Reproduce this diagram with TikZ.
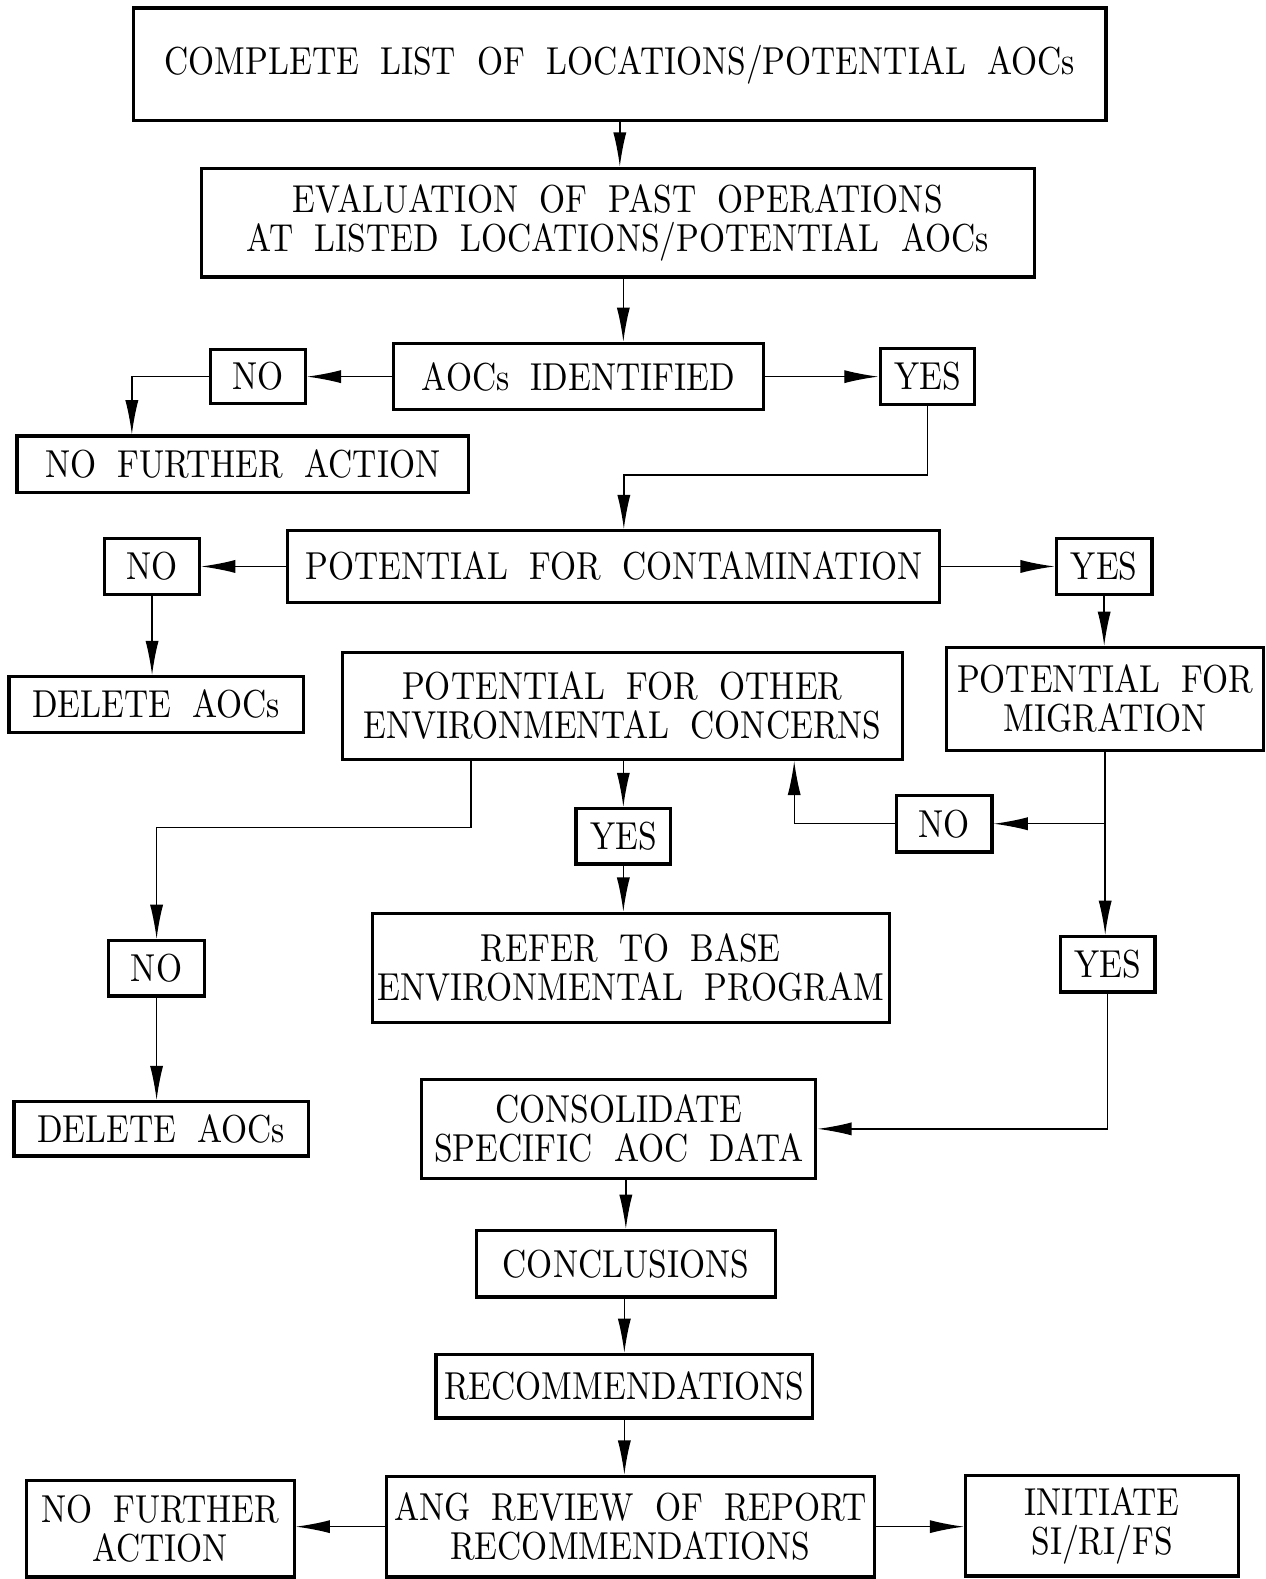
\documentclass[tikz,border=0pt]{standalone}
\usepackage{fontspec}
\usepackage{tikz}
\usetikzlibrary{arrows.meta}
\newfontfamily\flowfont{lmroman10-regular.otf}[FakeStretch=0.86]
\newcommand\flowtext{\flowfont\fontsize{11}{11}\selectfont\spaceskip=6pt plus 1pt minus 1pt\relax}

\begin{document}
\begin{tikzpicture}
  [x=0.01cm,y=-0.01cm,
   box/.style={draw,line width=0.9pt,align=center,inner sep=0pt,font=\flowtext},
   conn/.style={line width=0.4pt,-{Latex[length=3.4mm,width=1.3mm]}}]
  \useasboundingbox (0,0) rectangle (1257,1568);
  \node[box,minimum width=9.65cm,minimum height=1.12cm] (list) at (615.5,64) {COMPLETE LIST OF LOCATIONS/POTENTIAL AOCs};
  \node[box,minimum width=8.27cm,minimum height=1.08cm] (eval) at (613.5,221) {EVALUATION OF PAST OPERATIONS\\AT LISTED LOCATIONS/POTENTIAL AOCs};
  \node[box,minimum width=3.67cm,minimum height=0.66cm] (ident) at (574.5,374) {AOCs IDENTIFIED};
  \node[box,minimum width=0.94cm,minimum height=0.54cm] (noA) at (256,374) {NO};
  \node[box,minimum width=0.94cm,minimum height=0.56cm] (yesA) at (921,374) {YES};
  \node[box,minimum width=4.48cm,minimum height=0.56cm] (nfa) at (241,461) {NO FURTHER ACTION};
  \node[box,minimum width=6.47cm,minimum height=0.71cm] (contam) at (609.5,562.5) {POTENTIAL FOR CONTAMINATION};
  \node[box,minimum width=0.94cm,minimum height=0.55cm] (noB) at (151,562.5) {NO};
  \node[box,minimum width=0.95cm,minimum height=0.55cm] (yesB) at (1096.5,562.5) {YES};
  \node[box,minimum width=2.92cm,minimum height=0.55cm] (delA) at (155,699.5) {DELETE AOCs};
  \node[box,minimum width=5.56cm,minimum height=1.06cm] (other) at (618,701) {POTENTIAL FOR OTHER\\ENVIRONMENTAL CONCERNS};
  \node[box,minimum width=3.15cm,minimum height=1.02cm] (migr) at (1097.5,694) {POTENTIAL FOR\\MIGRATION};
  \node[box,minimum width=0.94cm,minimum height=0.55cm] (yesC) at (619,830.5) {YES};
  \node[box,minimum width=0.95cm,minimum height=0.56cm] (noC) at (937.5,818) {NO};
  \node[box,minimum width=0.95cm,minimum height=0.55cm] (noD) at (155.5,961.5) {NO};
  \node[box,minimum width=5.13cm,minimum height=1.08cm] (refer) at (626.5,961) {REFER TO BASE\\ENVIRONMENTAL PROGRAM};
  \node[box,minimum width=0.94cm,minimum height=0.55cm] (yesD) at (1100,957.5) {YES};
  \node[box,minimum width=2.92cm,minimum height=0.54cm] (delB) at (160,1121) {DELETE AOCs};
  \node[box,minimum width=3.91cm,minimum height=0.98cm] (consol) at (614.5,1121) {CONSOLIDATE\\SPECIFIC AOC DATA};
  \node[box,minimum width=2.97cm,minimum height=0.66cm] (concl) at (621.5,1255) {CONCLUSIONS};
  \node[box,minimum width=3.74cm,minimum height=0.63cm] (recom) at (620,1376.5) {RECOMMENDATIONS};
  \node[box,minimum width=2.66cm,minimum height=0.96cm] (nfaB) at (159,1518) {NO FURTHER\\ACTION};
  \node[box,minimum width=4.84cm,minimum height=1.00cm] (ang) at (626,1516) {ANG REVIEW OF REPORT\\RECOMMENDATIONS};
  \node[box,minimum width=2.71cm,minimum height=1.00cm] (init) at (1094.5,1515) {INITIATE\\SI/RI/FS};
  % straight runs
  \foreach \from/\to in {ident/noA,ident/yesA,contam/noB,contam/yesB}
    \draw[conn] (\from) -- (\to);
  \foreach \from/\to in {list/eval,noB/delA,yesB/migr,migr/yesD,yesC/refer,noD/delB,recom/ang}
    \draw[conn] (\from.south) -- (\from.south |- \to.north);
  \foreach \from/\to in {consol/concl,concl/recom,other/yesC}
    \draw[conn] (\to.north |- \from.south) -- (\to.north);
  \draw[conn] ([xshift=0.055cm]eval.south) -- ([xshift=0.055cm]eval.south |- ident.north);
  \draw[conn] (ang.west) -- (ang.west -| nfaB.east);
  \draw[conn] (ang.east) -- (ang.east -| init.west);
  % bent runs
  \draw[conn] (noA.west) -| ([xshift=-1.1cm]nfa.north);
  \draw[conn] (yesA.south) -- ++(0,68) -| ([xshift=0.1cm]contam.north);
  \draw[conn] (migr.south |- noC.east) -- (noC.east);
  \draw[conn] (noC.west) -| ([xshift=-1.09cm]other.south east);
  \draw[conn] ([xshift=-1.5cm]other.south) -- ++(0,66) -| (noD.north);
  \draw[conn] (yesD.south) |- (consol.east);
\end{tikzpicture}
\end{document}
